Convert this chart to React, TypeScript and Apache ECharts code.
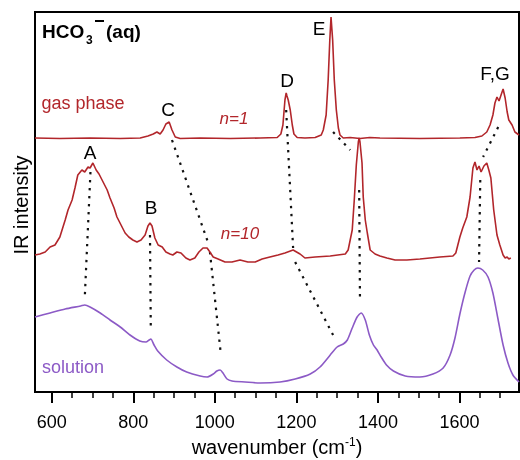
import React, { useEffect, useRef } from 'react';
import * as echarts from 'echarts';

const FONT = '"Liberation Sans", Arial, Helvetica, sans-serif';
const RED = '#b2262b';
const PURPLE = '#8c5ac6';

// wavenumber axis ticks (cm^-1)
const majorTicks = [600, 800, 1000, 1200, 1400, 1600];
const minorTicks = [650, 700, 750, 850, 900, 950, 1050, 1100, 1150, 1250, 1300, 1350, 1450, 1500, 1550, 1650, 1700];

// gas phase, n=1 (offset trace, arbitrary units)
const gasWn = [559, 620, 694, 768, 817, 836, 849, 858, 866, 873, 880, 888, 895, 903, 915, 964, 1038, 1111, 1153, 1162, 1167, 1172, 1175, 1177, 1180, 1185, 1190, 1194, 1202, 1221, 1246, 1261, 1266, 1273, 1278, 1282, 1285, 1289, 1293, 1298, 1303, 1307, 1315, 1332, 1356, 1380, 1405, 1503, 1601, 1638, 1655, 1667, 1675, 1682, 1687, 1692, 1697, 1702, 1707, 1712, 1717, 1721, 1729, 1736, 1746];
const gasI = [254, 253.5, 254, 253.5, 254, 256, 258, 260, 258, 262, 268, 270, 262, 255, 253.5, 254, 253.5, 254, 254.5, 258, 267, 292, 299, 296, 292, 282, 267, 258, 254.5, 254, 254.5, 257, 262, 277, 312, 352, 375, 352, 312, 282, 264, 257, 254, 254.5, 253.5, 254.5, 254, 253.5, 254, 254.5, 256, 260, 267, 277, 289, 295, 291, 297, 303, 294, 280, 272, 267, 260, 257];

// cluster n=10
const n10Wn = [559, 571, 584, 596, 608, 620, 633, 640, 650, 657, 664, 674, 681, 689, 694, 701, 709, 716, 726, 736, 743, 753, 760, 770, 780, 789, 799, 809, 819, 829, 836, 841, 846, 853, 861, 871, 880, 890, 897, 907, 917, 929, 939, 951, 961, 971, 981, 988, 996, 1008, 1025, 1042, 1062, 1081, 1099, 1116, 1135, 1155, 1172, 1192, 1209, 1221, 1246, 1283, 1320, 1327, 1332, 1337, 1342, 1347, 1352, 1354, 1356, 1361, 1364, 1369, 1374, 1381, 1393, 1405, 1422, 1442, 1471, 1503, 1552, 1584, 1591, 1596, 1601, 1608, 1618, 1626, 1633, 1638, 1643, 1648, 1653, 1660, 1667, 1672, 1677, 1684, 1692, 1699, 1707, 1712, 1717, 1721, 1726];
const n10I = [137, 138, 140, 145, 147, 155, 172, 182, 192, 204, 217, 222, 220, 225, 224, 229, 222, 218, 210, 202, 194, 184, 175, 167, 159, 155, 152, 150, 152, 157, 166, 169, 166, 154, 147, 145, 140, 138, 137, 140, 139, 134, 132, 134, 140, 144, 144, 140, 135, 133, 130, 130, 132, 130, 130, 133, 135, 137, 139, 142, 138, 134, 135, 136, 138, 142, 152, 162, 192, 227, 250, 254, 250, 229, 195, 172, 159, 142, 138, 136, 134, 132, 132, 133, 135, 136, 139, 147, 155, 164, 175, 195, 224, 230, 222, 226, 220, 226, 229, 222, 214, 182, 157, 147, 137, 134, 135, 133, 134];

// aqueous solution
const solWn = [559, 596, 633, 671, 681, 694, 719, 743, 768, 792, 816, 831, 839, 843, 851, 860, 882, 907, 931, 964, 981, 996, 1005, 1013, 1020, 1030, 1042, 1074, 1111, 1160, 1197, 1234, 1258, 1283, 1300, 1315, 1325, 1337, 1349, 1359, 1369, 1379, 1389, 1398, 1408, 1421, 1438, 1467, 1503, 1535, 1560, 1577, 1589, 1601, 1614, 1626, 1636, 1645, 1657, 1670, 1682, 1694, 1707, 1719, 1731, 1746];
const solI = [75, 79, 83, 86, 87, 85, 79, 72, 65, 57, 51, 50, 52, 53, 47, 41, 32, 25, 20, 16, 15, 18, 21, 22, 19, 13, 11, 10, 9, 10, 13, 18, 25, 37, 45, 48, 52, 64, 75, 79, 72, 57, 47, 42, 35, 27, 21, 16, 15, 18, 24, 37, 54, 78, 100, 116, 122, 124, 122, 115, 99, 74, 47, 29, 17, 10];

// dotted band-correlation guides: [from, to] in [wavenumber, intensity]
const guideFrom = [[695, 220], [841, 157], [895, 252], [988, 140], [1175, 282], [1197, 130], [1290, 260], [1354, 202], [1695, 265], [1651, 212]];
const guideTo = [[681, 94], [843, 62], [983, 150], [1015, 37], [1192, 144], [1290, 57], [1332, 242], [1356, 92], [1658, 235], [1648, 130]];

const zip = (xs: number[], ys: number[]) => xs.map((x, i) => [x, ys[i]]);

function txt(text: string, x: number, y: number, size: number, color = '#000', extra: any = {}, rotation = 0) {
  return {
    type: 'text',
    x,
    y,
    rotation,
    silent: true,
    style: { text, fontSize: size, fontFamily: FONT, fill: color, align: 'center', verticalAlign: 'middle', ...extra },
  };
}

export default function App() {
  const ref = useRef<HTMLDivElement>(null);
  useEffect(() => {
    const chart = echarts.init(ref.current!, null, { renderer: 'svg' });
    const lineSeries = (data: number[][], color: string, smooth: number | boolean = false) => ({
      type: 'line',
      data,
      symbol: 'none',
      silent: true,
      smooth,
      lineStyle: { color, width: 1.6 },
    });
    const guides = guideFrom.map((f, i) => ({
      type: 'line',
      data: [f, guideTo[i]],
      symbol: 'none',
      silent: true,
      z: 1,
      lineStyle: { color: '#111', width: 2.2, type: [2.4, 5.6] },
    }));
    chart.setOption({
      animation: false,
      grid: {
        left: 35, right: 1, top: 12, bottom: 68,
        show: true, borderColor: '#000', borderWidth: 2,
        outerBoundsMode: 'none',
      },
      xAxis: [
        {
          type: 'value', min: 559, max: 1746, position: 'bottom',
          axisLine: { show: true, lineStyle: { color: '#000', width: 2 } },
          axisTick: { show: true, length: 11, lineStyle: { color: '#000', width: 2 }, customValues: majorTicks },
          axisLabel: { customValues: majorTicks, fontSize: 18, color: '#000', margin: 21, fontFamily: FONT, formatter: (v: number) => String(v) },
          splitLine: { show: false },
          name: '{a|wavenumber (cm}{s|-1}{a|)}',
          nameLocation: 'middle',
          nameGap: 43,
          nameTextStyle: {
            rich: {
              a: { fontSize: 20, fontFamily: FONT, color: '#000' },
              s: { fontSize: 12, fontFamily: FONT, color: '#000', padding: [0, 0, 10, 0] },
            },
          },
        },
        {
          type: 'value', min: 559, max: 1746, position: 'bottom',
          axisLine: { show: false },
          axisTick: { show: true, length: 6, lineStyle: { color: '#000', width: 1.5 }, customValues: minorTicks },
          axisLabel: { show: false },
          splitLine: { show: false },
        },
      ],
      yAxis: { type: 'value', min: 0, max: 380, show: false },
      series: [
        ...guides,
        lineSeries(zip(gasWn, gasI), RED),
        lineSeries(zip(n10Wn, n10I), RED),
        lineSeries(zip(solWn, solI), PURPLE, 0.25),
      ],
      graphic: [
        { type: 'text', x: 42, y: 31, silent: true, style: { text: 'HCO', fontSize: 19, fontWeight: 'bold', fontFamily: FONT, fill: '#000', verticalAlign: 'middle' } },
        { type: 'text', x: 86, y: 40, silent: true, style: { text: '3', fontSize: 12, fontWeight: 'bold', fontFamily: FONT, fill: '#000', verticalAlign: 'middle' } },
        { type: 'rect', silent: true, shape: { x: 95, y: 20, width: 9, height: 2 }, style: { fill: '#000' } },
        { type: 'text', x: 106, y: 31, silent: true, style: { text: '(aq)', fontSize: 19, fontWeight: 'bold', fontFamily: FONT, fill: '#000', verticalAlign: 'middle' } },
        txt('IR intensity', 21, 205, 20, '#000', {}, Math.PI / 2),
        txt('gas phase', 83, 103, 18, RED),
        txt('n=1', 234, 118, 17, RED, { fontStyle: 'italic' }),
        txt('n=10', 240, 233, 17, RED, { fontStyle: 'italic' }),
        txt('solution', 73, 367, 18, PURPLE),
        txt('A', 90, 152, 19),
        txt('B', 151, 207, 19),
        txt('C', 168, 109, 19),
        txt('D', 287, 80, 19),
        txt('E', 319, 28, 19),
        txt('F,G', 495, 73, 19),
      ],
    });
    return () => chart.dispose();
  }, []);
  return <div ref={ref} style={{ position: 'fixed', left: 0, top: 0, width: 520, height: 460 }} />;
}
